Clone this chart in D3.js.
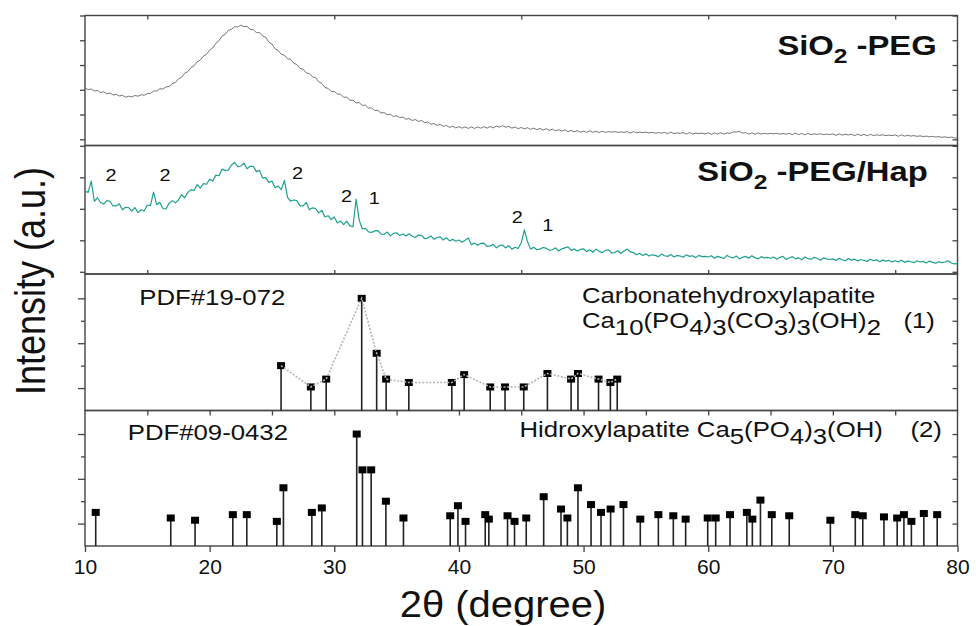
<!DOCTYPE html>
<html>
<head>
<meta charset="utf-8">
<script src="https://cdn.jsdelivr.net/npm/d3@7"></script>
<style>
  body { margin: 0; background: #fff; }
  svg text { font-family: "Liberation Sans", Arial, Helvetica, sans-serif; white-space: pre; }
</style>
</head>
<body>
<svg id="chart" width="976" height="626"></svg>
<script>
// ---- measured scans: 2θ from 10° to 80° in 0.25° steps ----
const scanStart = 10;
const scanStep = 0.25;

// SiO2-PEG (counts)
const sio2PegCounts = [
  307,301,303,295,297,289,292,284,287,279,282,275,278,270,274,271,277,274,280,278,
  285,285,295,295,304,303,312,313,325,329,344,350,367,373,390,397,413,420,436,443,
  460,469,488,498,517,524,540,544,555,553,561,555,556,544,543,531,531,517,512,492,
  485,466,459,443,440,425,423,407,402,386,383,368,366,352,349,332,326,309,306,293,
  293,283,282,270,270,258,258,247,248,237,238,226,227,216,217,206,208,199,201,192,
  195,188,190,181,184,176,180,172,176,167,170,161,164,156,160,152,156,148,153,146,
  151,145,150,144,150,144,150,145,151,145,152,146,153,149,155,149,152,145,150,143,
  148,142,147,140,145,139,144,137,143,136,141,134,139,133,138,131,136,130,135,129,
  133,128,134,128,133,127,133,128,131,129,131,128,130,128,131,125,131,126,129,127,
  129,126,128,125,127,125,128,123,129,123,126,124,127,121,127,122,125,123,125,122,
  126,120,126,121,127,121,126,124,130,129,132,125,127,121,126,120,126,121,124,122,
  124,122,124,121,123,121,124,119,125,119,124,118,124,119,122,120,122,119,121,119,
  122,116,122,117,120,118,120,115,121,115,120,114,120,115,118,116,118,115,117,115,
  118,112,118,113,116,113,115,112,114,111,113,110,112,109,111,108,110,107,109,106,
  105
];

// SiO2-PEG/Hap (counts)
const sio2PegHapCounts = [
  356,352,388,324,335,320,315,326,324,309,309,316,297,305,304,293,304,288,297,293,
  312,310,353,313,321,301,300,318,326,319,328,345,335,352,361,358,377,366,380,378,
  394,388,407,405,426,422,423,439,447,434,436,445,427,435,435,418,422,398,399,384,
  388,367,372,361,390,336,324,328,326,309,309,320,297,303,301,287,295,274,278,266,
  274,255,261,250,261,246,243,331,264,236,238,227,225,230,231,220,219,226,214,222,
  224,215,220,214,221,213,209,217,216,205,207,214,203,209,211,201,208,198,203,197,
  201,194,200,207,186,191,184,190,191,181,182,187,176,183,185,176,183,172,178,174,
  192,233,196,172,178,170,172,177,175,168,170,176,166,173,176,179,168,172,166,171,
  173,164,170,162,172,165,161,168,170,160,161,167,158,166,172,163,161,154,159,152,
  157,150,154,152,148,156,151,149,155,147,152,150,146,154,149,151,145,152,148,149,
  147,151,143,149,146,142,152,147,144,150,141,146,149,143,151,145,141,148,144,146,
  143,147,140,146,149,139,144,148,141,145,138,147,142,140,146,143,137,144,141,139,
  141,136,143,138,135,142,137,140,134,139,136,133,140,135,138,132,137,134,136,131,
  135,131,137,130,134,132,129,135,131,133,128,134,130,127,132,129,131,135,128,125,
  126
];

// peak assignments on the SiO2-PEG/Hap scan (1 = carbonate apatite, 2 = hydroxylapatite)
const peakLabelText  = ["2", "2", "2", "2", "1", "2", "1"];
const peakLabelAngle = [12.09, 16.42, 27.06, 30.99, 33.2, 44.68, 47.13];
const peakLabelCount = [387, 387, 395, 321, 315, 256, 230];

// ---- reference pattern PDF#19-072 (relative intensity, %) ----
const pdf19Angles = [25.73, 28.12, 29.35, 32.2, 33.4, 34.16, 35.98, 39.43, 40.42, 42.51,
                     43.7, 45.2, 47.1, 49.0, 49.55, 51.2, 52.15, 52.7];
const pdf19Intensity = [40, 21, 28, 100, 51, 28, 25, 25, 32, 21,
                        21, 21, 33, 28, 33, 28, 25, 28];

// ---- reference pattern PDF#09-0432 (relative intensity, %) ----
const pdf09Angles = [10.86, 16.88, 18.83, 21.86, 22.98, 25.39, 25.92, 28.2, 29.0, 31.8,
                     32.26, 32.96, 34.14, 35.55, 39.3, 39.92, 40.53, 42.11, 42.4, 43.9,
                     44.46, 45.4, 46.8, 48.19, 48.7, 49.55, 50.6, 51.4, 52.17, 53.2,
                     54.55, 56.0, 57.2, 58.19, 59.96, 60.6, 61.75, 63.1, 63.54, 64.19,
                     65.1, 66.5, 69.8, 71.8, 72.4, 74.1, 75.16, 75.7, 76.3, 77.3, 78.37];
const pdf09Intensity = [30, 25, 23, 28, 28, 22, 52, 30, 34, 100,
                        68, 68, 40, 25, 27, 36, 22, 28, 24, 27,
                        22, 25, 44, 33, 25, 52, 37, 30, 33, 37,
                        24, 28, 27, 24, 25, 25, 28, 30, 24, 41,
                        28, 27, 23, 28, 27, 26, 25, 28, 22, 29, 28];

// ---- axis ticks ----
const xTickLabels = [10, 20, 30, 40, 50, 60, 70, 80];
const frameTicks = [15, 30, 45, 60, 75];
const dividerTicks = [15, 20, 25, 30, 35, 40, 45, 50, 55, 60, 65, 70, 75];
const scanTicks1 = [100, 200, 300, 400, 500, 600];
const scanTicks2 = [100, 200, 300, 400, 500];
const refMajorTicks = [20, 60, 100];
const refMinorTicks = [40, 80];

// ---------------------------------------------------------------
const svg = d3.select("#chart");
const frameColor = "#444";
const textStretch = 1.17;

const x = d3.scaleLinear().domain([10, 80]).range([85, 957.5]);
const plotLeft = x.range()[0], plotRight = x.range()[1];

const panels = [
  { top: 15.5,  bottom: 145.5, domain: [75, 600] },
  { top: 145.5, bottom: 274,   domain: [93, 501] },
  { top: 274,   bottom: 410.5, domain: [0, 121.7] },
  { top: 410.5, bottom: 546,   domain: [0, 121] }
];
const ys = panels.map(p => d3.scaleLinear().domain(p.domain).range([p.bottom, p.top]));

const angles = d3.range(sio2PegCounts.length).map(i => scanStart + i * scanStep);

// panel frames
panels.forEach(p => {
  svg.append("rect")
    .attr("x", plotLeft).attr("y", p.top)
    .attr("width", plotRight - plotLeft).attr("height", p.bottom - p.top)
    .attr("fill", "none").attr("stroke", frameColor).attr("stroke-width", 1.4);
});

// measured scans
function drawScan(counts, yScale, color, width) {
  const line = d3.line().x((d, i) => x(angles[i])).y(d => yScale(d));
  svg.append("path").datum(counts)
    .attr("d", line).attr("fill", "none")
    .attr("stroke", color).attr("stroke-width", width)
    .attr("stroke-linejoin", "round");
}
drawScan(sio2PegCounts, ys[0], "#767676", 1);
drawScan(sio2PegHapCounts, ys[1], "#1fa08f", 1.2);

// stick patterns
function drawSticks(anglesArr, values, yScale) {
  const g = svg.append("g");
  g.selectAll("line").data(values).join("line")
    .attr("x1", (d, i) => x(anglesArr[i])).attr("x2", (d, i) => x(anglesArr[i]))
    .attr("y1", yScale(0)).attr("y2", d => yScale(d))
    .attr("stroke", "#222").attr("stroke-width", 1.6);
  g.selectAll("rect").data(values).join("rect")
    .attr("x", (d, i) => x(anglesArr[i]) - 4).attr("y", d => yScale(d) - 3.5)
    .attr("width", 8).attr("height", 7).attr("fill", "#000");
}
drawSticks(pdf19Angles, pdf19Intensity, ys[2]);
drawSticks(pdf09Angles, pdf09Intensity, ys[3]);

// dotted guide joining the PDF#19-072 sticks
svg.append("path").datum(pdf19Intensity)
  .attr("d", d3.line().x((d, i) => x(pdf19Angles[i])).y(d => ys[2](d)))
  .attr("fill", "none").attr("stroke", "#b4b4b4").attr("stroke-width", 1.6)
  .attr("stroke-dasharray", "2,1.6");

// ---- axes ----
function tickAxis(axis, transform) {
  const g = svg.append("g").attr("transform", transform).call(axis);
  g.select(".domain").remove();
  g.selectAll(".tick line").attr("stroke", frameColor).attr("stroke-width", 1.3);
  return g;
}
// left (outward) and right (inward) ticks
tickAxis(d3.axisLeft(ys[0]).tickValues(scanTicks1).tickSize(5).tickFormat(""), `translate(${plotLeft},0)`);
tickAxis(d3.axisRight(ys[0]).tickValues(scanTicks1).tickSize(-5).tickFormat(""), `translate(${plotRight},0)`);
tickAxis(d3.axisLeft(ys[1]).tickValues(scanTicks2).tickSize(5).tickFormat(""), `translate(${plotLeft},0)`);
tickAxis(d3.axisRight(ys[1]).tickValues(scanTicks2).tickSize(-5).tickFormat(""), `translate(${plotRight},0)`);
[2, 3].forEach(k => {
  tickAxis(d3.axisLeft(ys[k]).tickValues(refMajorTicks).tickSize(7).tickFormat(""), `translate(${plotLeft},0)`);
  tickAxis(d3.axisLeft(ys[k]).tickValues(refMinorTicks).tickSize(4).tickFormat(""), `translate(${plotLeft},0)`);
  tickAxis(d3.axisRight(ys[k]).tickValues(refMajorTicks.concat(refMinorTicks)).tickSize(-5).tickFormat(""), `translate(${plotRight},0)`);
});
// top of the first panel and bottom of the second: inward ticks
tickAxis(d3.axisTop(x).tickValues(frameTicks).tickSize(-4).tickFormat(""), `translate(0,${panels[0].top})`);
tickAxis(d3.axisBottom(x).tickValues(frameTicks).tickSize(-4).tickFormat(""), `translate(0,${panels[1].bottom})`);
// divider between the two reference patterns
tickAxis(d3.axisBottom(x).tickValues(dividerTicks).tickSize(5).tickFormat(""), `translate(0,${panels[2].bottom})`);
// labelled 2θ axis
const xAxisG = tickAxis(d3.axisBottom(x).tickValues(xTickLabels).tickSize(6).tickPadding(7).tickFormat(d3.format("d")),
  `translate(0,${panels[3].bottom})`);
xAxisG.selectAll(".tick text")
  .attr("font-size", 21).attr("fill", "#111")
  .style("font-family", '"Liberation Sans", Arial, sans-serif');

// ---- text ----
// horizontally stretched text block anchored at (px, py)
function label(px, py, anchor) {
  return svg.append("g").attr("transform", `translate(${px},${py}) scale(${textStretch},1)`)
    .append("text").attr("text-anchor", anchor || "start").attr("fill", "#111");
}
// build text from [string, isSubscript] pieces
function richText(t, pieces, size, subSize, shift) {
  let lowered = false;
  pieces.forEach(([s, sub]) => {
    const ts = t.append("tspan").text(s).attr("font-size", sub ? subSize : size);
    if (sub && !lowered) { ts.attr("dy", shift); lowered = true; }
    else if (!sub && lowered) { ts.attr("dy", -shift); lowered = false; }
  });
}

// sample names
richText(label(x(65.55), ys[0](440)).attr("font-weight", "bold"),
  [["SiO", false], ["2", true], [" -PEG", false]], 28, 21, 8);
richText(label(x(59.13), ys[1](388)).attr("font-weight", "bold"),
  [["SiO", false], ["2", true], [" -PEG/Hap", false]], 28, 21, 8);

// peak assignments
peakLabelText.forEach((s, i) => {
  label(x(peakLabelAngle[i]), ys[1](peakLabelCount[i]), "middle").attr("font-size", 17).text(s);
});

// reference card captions
label(x(14.36), ys[2](94)).attr("font-size", 22).text("PDF#19-072");
label(x(49.87), ys[2](95.5)).attr("font-size", 22).text("Carbonatehydroxylapatite");
richText(label(x(49.87), ys[2](73.3)),
  [["Ca", false], ["10", true], ["(PO", false], ["4", true], [")", false], ["3", true],
   ["(CO", false], ["3", true], [")", false], ["3", true], ["(OH)", false], ["2", true]], 22, 22, 7);
label(x(75.66), ys[2](73.3)).attr("font-size", 22).text("(1)");

label(x(13.43), ys[3](94.6)).attr("font-size", 22).text("PDF#09-0432");
richText(label(x(44.86), ys[3](97.6)),
  [["Hidroxylapatite Ca", false], ["5", true], ["(PO", false], ["4", true], [")", false],
   ["3", true], ["(OH)", false]], 22, 22, 7);
label(x(76.22), ys[3](97.6)).attr("font-size", 22).text("(2)");

// axis titles
svg.append("text")
  .attr("transform", `translate(45,281) rotate(-90) scale(1,${textStretch})`)
  .attr("text-anchor", "middle").attr("font-size", 36).attr("fill", "#111")
  .text("Intensity (a.u.)");
svg.append("g").attr("transform", `translate(503,617) scale(1.08,1)`)
  .append("text").attr("text-anchor", "middle").attr("font-size", 37).attr("fill", "#111")
  .text("2θ (degree)");
</script>
</body>
</html>
